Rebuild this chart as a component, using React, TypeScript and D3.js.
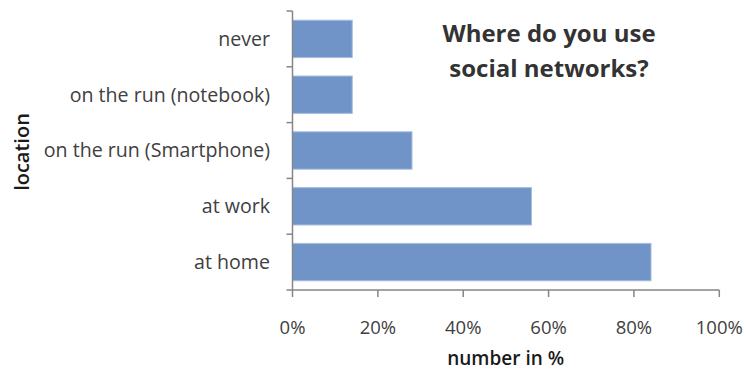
import React from "react";
import * as d3 from "d3";

const categories = ["never", "on the run (notebook)", "on the run (Smartphone)", "at work", "at home"];
const values = [14, 14, 28, 56, 84];
const xTicks = [0, 20, 40, 60, 80, 100];
const titleLines = ["Where do you use", "social networks?"];
const xTitle = "number in %";
const yTitle = "location";

const W = 746;
const H = 371;
const left = 292.5;
const right = 719.3;
const top = 11;
const bottom = 290;
const FONT = "'Open Sans', sans-serif";

export default function App() {
  const x = d3.scaleLinear().domain([0, 100]).range([left, right]);
  const y = d3
    .scaleBand<string>()
    .domain(categories)
    .range([top, bottom])
    .paddingInner(0.33)
    .paddingOuter(0.165);
  const step = y.step();
  const axisColor = "#868686";
  const textColor = "#404040";

  return (
    <svg
      width={W}
      height={H}
      style={{ position: "absolute", left: 0, top: 0, background: "#fff" }}
    >
      {categories.map((c, i) => (
        <rect
          key={c}
          x={x(0)}
          y={y(c)!}
          width={x(values[i]) - x(0)}
          height={y.bandwidth()}
          fill="#7094C8"
          stroke="#A6BEE0"
          strokeWidth={1}
        />
      ))}
      <line x1={left} x2={left} y1={top} y2={bottom} stroke={axisColor} strokeWidth={1.5} />
      {d3.range(categories.length + 1).map((k) => (
        <line
          key={"yt" + k}
          x1={left - 6}
          x2={left}
          y1={top + k * step}
          y2={top + k * step}
          stroke={axisColor}
          strokeWidth={1.5}
        />
      ))}
      {categories.map((c) => (
        <text
          key={"yl" + c}
          x={270}
          y={y(c)! + y.bandwidth() / 2}
          dy="0.35em"
          textAnchor="end"
          fontFamily={FONT}
          fontSize={19.6}
          fill={textColor}
        >
          {c}
        </text>
      ))}
      <line x1={left} x2={right} y1={bottom} y2={bottom} stroke={axisColor} strokeWidth={1.5} />
      {xTicks.map((t) => (
        <g key={"xt" + t}>
          <line x1={x(t)} x2={x(t)} y1={bottom} y2={bottom + 7} stroke={axisColor} strokeWidth={1.5} />
          <text
            x={x(t)}
            y={334}
            textAnchor="middle"
            fontFamily={FONT}
            fontSize={18.5}
            fill={textColor}
          >
            {t + "%"}
          </text>
        </g>
      ))}
      <text
        x={505.7}
        y={365}
        textAnchor="middle"
        fontFamily={FONT}
        fontSize={19}
        fontWeight={600}
        fill="#1a1a1a"
      >
        {xTitle}
      </text>
      <text
        transform={`translate(29,152) rotate(-90)`}
        textAnchor="middle"
        fontFamily={FONT}
        fontSize={20}
        fontWeight={600}
        fill="#1a1a1a"
      >
        {yTitle}
      </text>
      {titleLines.map((l, i) => (
        <text
          key={"t" + i}
          x={549}
          y={42 + i * 35}
          textAnchor="middle"
          fontFamily={FONT}
          fontSize={24}
          fontWeight={700}
          fill="#333333"
        >
          {l}
        </text>
      ))}
    </svg>
  );
}
